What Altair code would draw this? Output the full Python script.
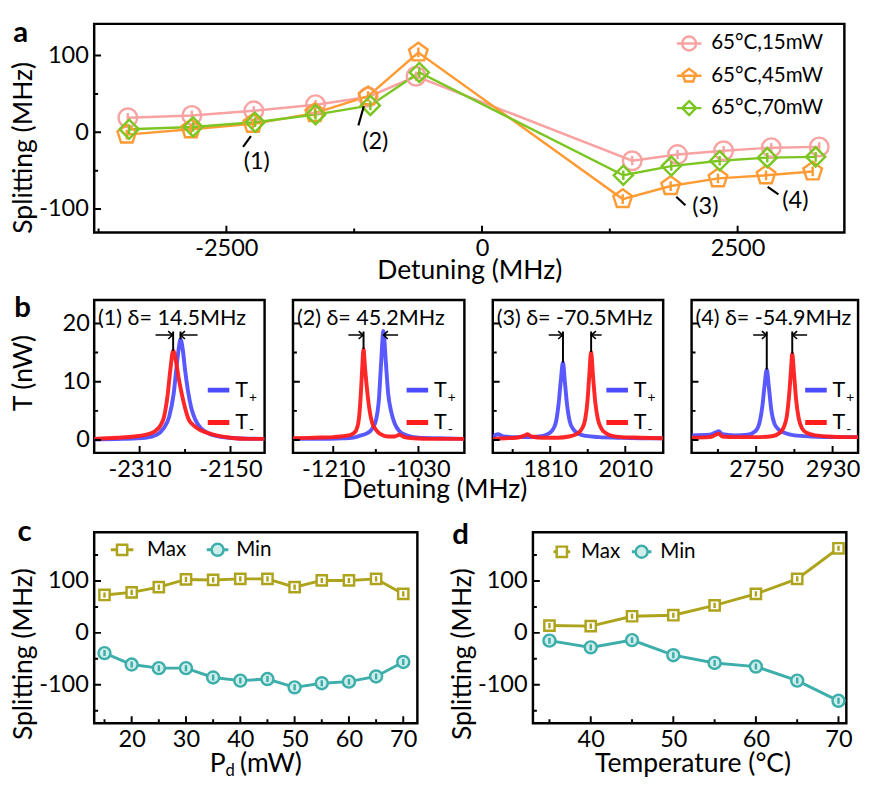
import altair as alt
import pandas as pd

FONT = "Lato"

# ---------------- Panel a data ----------------
a_names = ["65°C,15mW", "65°C,45mW", "65°C,70mW"]
a_colors = ["#F8A2A2", "#FF9B35", "#7CC623"]
a_x_15 = [-3464, -2838, -2232, -1628, -1114, -645, 1469, 1912, 2363, 2829, 3298]
a_y_15 = [19, 22, 28, 36, 46, 73, -37, -29, -24, -20, -19]
a_x_45 = [-3474, -2847, -2241, -1635, -1114, -623, 1376, 1845, 2308, 2778, 3234]
a_y_45 = [-3, 4, 11, 25, 47, 104, -87, -70, -60, -56, -51]
a_x_70 = [-3451, -2826, -2219, -1628, -1092, -613, 1382, 1851, 2324, 2790, 3263]
a_y_70 = [4, 7, 13, 23, 35, 78, -56, -44, -37, -33, -32]
a_xticks = [-2500, 0, 2500]
a_xminor = [-3750, -1250, 1250]
a_yticks = [-100, 0, 100]
a_yminor = [-50, 50]
a_ann_text = ["(1)", "(2)", "(3)", "(4)"]
a_ann_tx = [-2203, -1044, 2184, 3065]
a_ann_ty = [-39, -13, -98, -90]
a_ann_x1 = [-2260, -1156, 1900, 2794]
a_ann_y1 = [-5, 34, -84, -71]
a_ann_x2 = [-2337, -1209, 1989, 2899]
a_ann_y2 = [-19, 9, -95, -81]

# ---------------- Panel b data ----------------
b_names = ["T", "T"]
b_subs = ["+", "-"]
b_colors = ["#4B4BFF", "#FF1C1C"]
b_labels = ["(1) δ= 14.5MHz", "(2) δ= 45.2MHz", "(3) δ= -70.5MHz", "(4) δ= -54.9MHz"]

b1_blue_x = [-2390, -2340, -2300, -2280, -2268, -2258, -2250, -2245, -2241, -2238, -2234, -2230, -2225, -2219, -2212, -2202, -2190, -2170, -2140, -2090]
b1_blue_y = [0.1, 0.2, 0.4, 0.9, 2.0, 4.0, 8.0, 12.5, 15.8, 17.3, 15.5, 12.0, 8.5, 5.5, 3.5, 2.0, 1.2, 0.6, 0.3, 0.2]
b1_red_x = [-2390, -2350, -2320, -2300, -2285, -2274, -2267, -2261, -2256, -2251, -2246, -2241, -2236, -2230, -2224, -2215, -2205, -2193, -2175, -2150, -2120, -2090]
b1_red_y = [0.2, 0.4, 0.6, 0.9, 1.4, 2.4, 4.0, 7.5, 12.0, 15.3, 13.5, 10.5, 8.0, 5.5, 3.6, 2.5, 1.8, 1.3, 0.8, 0.4, 0.2, 0.2]

b2_blue_x = [-1295, -1240, -1190, -1170, -1155, -1140, -1128, -1120, -1114, -1109, -1104, -1099, -1094, -1088, -1080, -1070, -1055, -1030, -990, -933]
b2_blue_y = [0.2, 0.2, 0.3, 0.4, 0.7, 1.1, 1.9, 3.3, 6.5, 13.0, 18.7, 13.5, 8.0, 5.0, 2.8, 1.5, 0.8, 0.4, 0.3, 0.2]
b2_red_x = [-1295, -1250, -1210, -1185, -1170, -1162, -1156, -1152, -1149, -1146, -1143, -1139, -1134, -1128, -1120, -1110, -1095, -1080, -1070, -1060, -1040, -1000, -933]
b2_red_y = [0.3, 0.4, 0.5, 0.7, 1.0, 1.6, 3.5, 7.5, 12.0, 15.6, 12.5, 9.0, 5.5, 3.0, 1.8, 1.0, 0.6, 0.6, 0.9, 0.5, 0.3, 0.2, 0.2]

b3_blue_x = [1657, 1665, 1672, 1685, 1710, 1750, 1780, 1800, 1815, 1825, 1832, 1838, 1844, 1849, 1855, 1862, 1872, 1885, 1905, 1940, 1990, 2060, 2111]
b3_blue_y = [0.5, 0.9, 1.0, 0.6, 0.5, 0.5, 0.6, 0.9, 1.6, 3.0, 6.0, 10.0, 13.3, 10.0, 6.0, 3.2, 1.8, 1.1, 0.7, 0.5, 0.4, 0.3, 0.3]
b3_red_x = [1657, 1690, 1720, 1740, 1750, 1760, 1790, 1830, 1860, 1880, 1895, 1903, 1909, 1914, 1919, 1924, 1930, 1937, 1946, 1958, 1975, 2000, 2050, 2111]
b3_red_y = [0.2, 0.3, 0.4, 0.7, 1.0, 0.6, 0.4, 0.4, 0.6, 1.0, 2.0, 3.5, 6.5, 11.0, 15.1, 11.0, 6.5, 3.6, 2.0, 1.2, 0.7, 0.5, 0.4, 0.3]

b4_blue_x = [2598, 2640, 2655, 2662, 2670, 2700, 2730, 2748, 2758, 2765, 2770, 2775, 2780, 2786, 2793, 2803, 2818, 2840, 2880, 2940, 2990]
b4_blue_y = [0.8, 0.9, 1.3, 1.5, 1.0, 0.8, 0.9, 1.5, 3.0, 6.0, 9.5, 12.1, 9.0, 5.0, 2.8, 1.8, 1.2, 0.8, 0.6, 0.5, 0.5]
b4_red_x = [2598, 2640, 2655, 2662, 2670, 2700, 2750, 2790, 2805, 2815, 2822, 2828, 2832, 2835, 2839, 2844, 2850, 2858, 2870, 2890, 2920, 2960, 2990]
b4_red_y = [0.4, 0.5, 0.9, 1.1, 0.6, 0.5, 0.5, 0.7, 1.2, 2.2, 4.0, 8.0, 12.0, 14.8, 11.5, 7.0, 3.8, 2.0, 1.2, 0.8, 0.6, 0.5, 0.5]

b_xdom = [[-2390, -2090], [-1295, -933], [1657, 2111], [2598, 2990]]
b_xmaj = [[-2310, -2150], [-1210, -1030], [1810, 2010], [2750, 2930]]
b_xmin = [[-2230], [-1120], [1710, 1910], [2660, 2840]]
b_yticks = [0, 10, 20]
b_yminor = [5, 15]
b_vx = [[-2251, -2238], [-1146], [1844, 1919], [2775, 2835]]
b_vy = [[15.3, 17.3], [15.6], [13.3, 15.1], [12.1, 14.8]]
b_vtop = 18.6
b_arr_from = [[-2282, -2208], [-1178, -1073], [1806, 1947], [2743, 2870]]
b_arr_to = [[-2252, -2238], [-1147, -1104], [1843, 1920], [2774, 2836]]
b_arr_y = 18.0

# ---------------- Panels c, d data ----------------
cd_names = ["Max", "Min"]
cd_stroke = ["#ADA31C", "#3DAEAA"]
cd_fill = ["#FFFFFF", "#CFEDEB"]
c_x = [15, 20, 25, 30, 35, 40, 45, 50, 55, 60, 65, 70]
c_max = [73, 78, 88, 103, 102, 104, 104, 88, 101, 101, 104, 75]
c_min = [-39, -61, -68, -68, -86, -92, -89, -105, -97, -94, -84, -56]
d_x = [35, 40, 45, 50, 55, 60, 65, 70]
d_max = [14, 13, 32, 34, 53, 75, 104, 163]
d_min = [-15, -28, -14, -43, -58, -65, -92, -131]
c_xticks = [20, 30, 40, 50, 60, 70]
c_xminor = [15, 25, 35, 45, 55, 65]
d_xticks = [40, 50, 60, 70]
d_xminor = [35, 45, 55, 65]
cd_yticks = [-100, 0, 100]
cd_yminor = [-150, -50, 50, 150]

# ---------------- shapes ----------------
CIRC = "M1,0 C1,0.55 0.55,1 0,1 C-0.55,1 -1,0.55 -1,0 C-1,-0.55 -0.55,-1 0,-1 C0.55,-1 1,-0.55 1,0 Z"
PENT = "M0,-1 L0.95,-0.31 L0.59,0.81 L-0.59,0.81 L-0.95,-0.31 Z"
DIAM = "M0,-1 L1,0 L0,1 L-1,0 Z"
SQR = "M-1,-1 L1,-1 L1,1 L-1,1 Z"
VBAR = " M0,-0.5 L0,0.5"
ARR_R = "M-1,-0.9 L0,0 L-1,0.9"
ARR_L = "M1,-0.9 L0,0 L1,0.9"

OMIT = "omit"


def num_axis(values, title, **kw):
    return alt.Axis(values=values, title=title, ticks=False, tickSize=0, domain=False, grid=False,
                    labelFlush=False, labelExpr="'' + datum.value", **kw)


def enc(xf, yf, xs, ys, xaxis=OMIT, yaxis=OMIT):
    xkw = {"scale": xs}
    ykw = {"scale": ys}
    if not (isinstance(xaxis, str) and xaxis == OMIT):
        xkw["axis"] = xaxis
    if not (isinstance(yaxis, str) and yaxis == OMIT):
        ykw["axis"] = yaxis
    return dict(x=alt.X(f"{xf}:Q", **xkw), y=alt.Y(f"{yf}:Q", **ykw))


def tick_layers(xs, ys, xmaj, xmin, ymaj, ymin, H, big=7, small=4):
    out = []
    for vals, ln in ((xmaj, big), (xmin, small)):
        if vals:
            out.append(alt.Chart(pd.DataFrame({"tv": vals})).mark_rule(color="black", strokeWidth=2, clip=True)
                       .encode(x=alt.X("tv:Q", scale=xs), y=alt.value(H), y2=alt.value(H - ln)))
    for vals, ln in ((ymaj, big), (ymin, small)):
        if vals:
            out.append(alt.Chart(pd.DataFrame({"tv": vals})).mark_rule(color="black", strokeWidth=2, clip=True)
                       .encode(y=alt.Y("tv:Q", scale=ys), x=alt.value(0), x2=alt.value(ln)))
    return out


def text_at(t, x, y, size, align="left", baseline="middle", weight="normal", clip=True):
    return alt.Chart(pd.DataFrame({"t": [t]})).mark_text(
        font=FONT, fontSize=size, fontWeight=weight, align=align, baseline=baseline, color="black", clip=clip
    ).encode(x=alt.value(x), y=alt.value(y), text="t:N")


def legend_entry(label, y, x0, x1, xsym, xt, color, lw, fsize, shape=None, size=None, fill=None):
    out = [alt.Chart(pd.DataFrame({"t": [label]})).mark_rule(color=color, strokeWidth=lw, clip=True)
           .encode(x=alt.value(x0), x2=alt.value(x1), y=alt.value(y))]
    if shape is not None:
        kw = dict(shape=shape, size=size, stroke=color, strokeWidth=2.5, opacity=1, clip=True)
        if fill is None:
            kw.update(filled=False, color=color)
        else:
            kw.update(filled=True, fill=fill)
        out.append(alt.Chart(pd.DataFrame({"t": [label]})).mark_point(**kw)
                   .encode(x=alt.value(xsym), y=alt.value(y)))
    out.append(text_at(label, xt, y, fsize))
    return out


# ---------------- Panel a ----------------
W_A, H_A = 766, 213
xs_a = alt.Scale(domain=[-3793, 3544], nice=False, zero=False)
ys_a = alt.Scale(domain=[-130.5, 141.2], nice=False, zero=False)
xax_a = num_axis(a_xticks, "Detuning (MHz)", labelPadding=4, titleX=W_A / 2, titleY=47,
                 titleBaseline="alphabetic")
yax_a = num_axis(a_yticks, "Splitting (MHz)", labelPadding=6, titleX=-72, titleY=126,
                 titleBaseline="middle", titleAngle=270)

a_series = [(a_x_15, a_y_15, a_colors[0], CIRC, 360),
            (a_x_45, a_y_45, a_colors[1], PENT, 400),
            (a_x_70, a_y_70, a_colors[2], DIAM, 380)]
a_layers = []
for k, (xv, yv, col, shp, sz) in enumerate(a_series):
    df = pd.DataFrame({"x": xv, "y": yv})
    if k == 0:
        e = enc("x", "y", xs_a, ys_a, xax_a, yax_a)
    else:
        e = enc("x", "y", xs_a, ys_a)
    a_layers.append(alt.Chart(df).mark_line(color=col, strokeWidth=2.5, clip=True).encode(**e))
for xv, yv, col, shp, sz in a_series:
    df = pd.DataFrame({"x": xv, "y": yv})
    a_layers.append(alt.Chart(df).mark_point(shape=shp + VBAR, size=sz, color=col, filled=False, clip=True,
                                             strokeWidth=2.5, opacity=1).encode(**enc("x", "y", xs_a, ys_a)))
ann = pd.DataFrame({"x1": a_ann_x1, "y1": a_ann_y1, "x2": a_ann_x2, "y2": a_ann_y2,
                    "t": a_ann_text, "tx": a_ann_tx, "ty": a_ann_ty})
a_layers.append(alt.Chart(ann).mark_rule(color="black", strokeWidth=2.2, clip=True).encode(
    **enc("x1", "y1", xs_a, ys_a), x2="x2:Q", y2="y2:Q"))
a_layers.append(alt.Chart(ann).mark_text(font=FONT, fontSize=24, color="black", clip=True).encode(
    **enc("tx", "ty", xs_a, ys_a), text="t:N"))
a_layers += tick_layers(xs_a, ys_a, a_xticks, a_xminor, a_yticks, a_yminor, H_A)
for j, (nm, col, shp) in enumerate(zip(a_names, a_colors, [CIRC, PENT, DIAM])):
    a_layers += legend_entry(nm, 20 + 33 * j, 595, 620, 607.5, 630, col, 2.5, 21, shape=shp, size=200)
a_layers.append(text_at("a", -75, 18, 30, align="center", baseline="alphabetic", weight="bold", clip=False))
chart_a = alt.layer(*a_layers).properties(width=W_A, height=H_A)

# ---------------- Panel b ----------------
H_B = 156
b_widths = [174, 175, 174, 170]
b_curves = [(b1_blue_x, b1_blue_y, b1_red_x, b1_red_y),
            (b2_blue_x, b2_blue_y, b2_red_x, b2_red_y),
            (b3_blue_x, b3_blue_y, b3_red_x, b3_red_y),
            (b4_blue_x, b4_blue_y, b4_red_x, b4_red_y)]
ys_b = alt.Scale(domain=[-2.2, 24], nice=False, zero=False)
b_charts = []
for i in range(4):
    W = b_widths[i]
    xs = alt.Scale(domain=b_xdom[i], nice=False, zero=False)
    xax = num_axis(b_xmaj[i], None, labelPadding=5)
    yax = num_axis(b_yticks, "T (nW)", labelPadding=5, titleX=-72, titleY=74,
                   titleBaseline="middle", titleAngle=270) if i == 0 else None
    bx, by, rx, ry = b_curves[i]
    layers = [
        alt.Chart(pd.DataFrame({"x": bx, "y": by})).mark_line(
            color=b_colors[0], strokeWidth=4, interpolate="monotone", opacity=0.92, clip=True
        ).encode(**enc("x", "y", xs, ys_b, xax, yax)),
        alt.Chart(pd.DataFrame({"x": rx, "y": ry})).mark_line(
            color=b_colors[1], strokeWidth=4, interpolate="monotone", opacity=0.95, clip=True
        ).encode(**enc("x", "y", xs, ys_b)),
    ]
    vdf = pd.DataFrame({"x": b_vx[i], "y": b_vy[i], "y2": [b_vtop] * len(b_vx[i])})
    layers.append(alt.Chart(vdf).mark_rule(color="black", strokeWidth=2, clip=True).encode(
        **enc("x", "y", xs, ys_b), y2="y2:Q"))
    adf = pd.DataFrame({"x": b_arr_from[i], "x2": b_arr_to[i], "y": [b_arr_y, b_arr_y]})
    layers.append(alt.Chart(adf).mark_rule(color="black", strokeWidth=1.5, clip=True).encode(
        **enc("x", "y", xs, ys_b), x2="x2:Q"))
    layers.append(alt.Chart(pd.DataFrame({"x": [b_arr_to[i][0]], "y": [b_arr_y]})).mark_point(
        shape=ARR_R, size=81, filled=False, color="black", strokeWidth=1.6, opacity=1, clip=True
    ).encode(**enc("x", "y", xs, ys_b)))
    layers.append(alt.Chart(pd.DataFrame({"x": [b_arr_to[i][1]], "y": [b_arr_y]})).mark_point(
        shape=ARR_L, size=81, filled=False, color="black", strokeWidth=1.6, opacity=1, clip=True
    ).encode(**enc("x", "y", xs, ys_b)))
    layers.append(text_at(b_labels[i], 4, 18, 22))
    layers += tick_layers(xs, ys_b, b_xmaj[i], b_xmin[i], b_yticks, b_yminor, H_B)
    for j, (nm, sub, col) in enumerate(zip(b_names, b_subs, b_colors)):
        yy = 92 + 33 * j
        layers += legend_entry(nm, yy, 116, 138, None, 144, col, 5, 22)
        layers.append(text_at(sub, 158, yy + 8, 14))
    if i == 0:
        layers.append(text_at("b", -73, 17, 30, align="center", baseline="alphabetic", weight="bold", clip=False))
    b_charts.append(alt.layer(*layers).properties(width=W, height=H_B))

brow = alt.hconcat(*b_charts, spacing=25,
                   title=alt.TitleParams("Detuning (MHz)", orient="bottom", anchor="middle", fontSize=27,
                                         font=FONT, fontWeight="normal", color="black", offset=-5))

# ---------------- Panels c, d ----------------
H_CD = 195
ys_cd = alt.Scale(domain=[-174, 194], nice=False, zero=False)


def cd_panel(W, xdom, xv, ymax, ymin, xmaj, xmin, xtitle, label, lab_x, lab_y, leg):
    xs = alt.Scale(domain=xdom, nice=False, zero=False)
    xkw = dict(labelPadding=5)
    if xtitle:
        xkw.update(titleX=W / 2 + 3, titleY=49, titleBaseline="alphabetic")
    xax = num_axis(xmaj, xtitle, **xkw)
    yax = num_axis(cd_yticks, "Splitting (MHz)", labelPadding=6, titleX=-72, titleY=124,
                   titleBaseline="middle", titleAngle=270)
    dmax = pd.DataFrame({"x": xv, "y": ymax})
    dmin = pd.DataFrame({"x": xv, "y": ymin})
    layers = [
        alt.Chart(dmax).mark_line(color=cd_stroke[0], strokeWidth=3, clip=True).encode(
            **enc("x", "y", xs, ys_cd, xax, yax)),
        alt.Chart(dmin).mark_line(color=cd_stroke[1], strokeWidth=3, clip=True).encode(**enc("x", "y", xs, ys_cd)),
        alt.Chart(dmax).mark_point(shape=SQR + VBAR, size=110, filled=True, fill=cd_fill[0], stroke=cd_stroke[0],
                                   strokeWidth=2.5, opacity=1, clip=True).encode(**enc("x", "y", xs, ys_cd)),
        alt.Chart(dmin).mark_point(shape=CIRC + VBAR, size=150, filled=True, fill=cd_fill[1], stroke=cd_stroke[1],
                                   strokeWidth=2.5, opacity=1, clip=True).encode(**enc("x", "y", xs, ys_cd)),
    ]
    layers += tick_layers(xs, ys_cd, xmaj, xmin, cd_yticks, cd_yminor, H_CD)
    ly = leg[0]
    for j, (nm, sc, fc, shp, sz) in enumerate(zip(cd_names, cd_stroke, cd_fill, [SQR, CIRC], [110, 150])):
        x0, x1, xsym, xt = leg[1 + j]
        layers += legend_entry(nm, ly, x0, x1, xsym, xt, sc, 3, 21, shape=shp, size=sz, fill=fc)
    layers.append(text_at(label, lab_x, lab_y, 30, align="center", baseline="alphabetic", weight="bold",
                          clip=False))
    return layers


c_layers = cd_panel(330, [13.1, 72.6], c_x, c_max, c_min, c_xticks, c_xminor, None, "c", -71, 9,
                    [18, (17, 40, 28.5, 54), (115, 137, 126, 145)])
c_layers.append(text_at("P", 118, 245, 27, baseline="alphabetic", clip=False))
c_layers.append(text_at("d", 134, 249, 17, baseline="alphabetic", clip=False))
c_layers.append(text_at("(mW)", 149, 245, 27, baseline="alphabetic", clip=False))
chart_c = alt.layer(*c_layers).properties(width=330, height=H_CD)

d_layers = cd_panel(320, [33.0, 70.95], d_x, d_max, d_min, d_xticks, d_xminor, "Temperature (°C)", "d",
                    -74, 12, [20, (21, 38, 29.5, 49), (101, 121, 111, 130)])
chart_d = alt.layer(*d_layers).properties(width=320, height=H_CD)

cdrow = alt.hconcat(chart_c, chart_d, spacing=28)

lower = alt.vconcat(brow, cdrow, spacing=12)

chart = alt.vconcat(chart_a, lower, spacing=6).properties(
    padding={"left": 0, "top": 0, "right": 0, "bottom": 0}
).configure_view(stroke="black", strokeWidth=2.5
).configure_axis(labelFont=FONT, titleFont=FONT, labelFontSize=24, titleFontSize=27,
                 titleFontWeight="normal", labelColor="black", titleColor="black"
).configure_text(font=FONT
).configure_title(font=FONT, color="black")

chart.save("out.html", embed_options={"renderer": "svg", "actions": False})
